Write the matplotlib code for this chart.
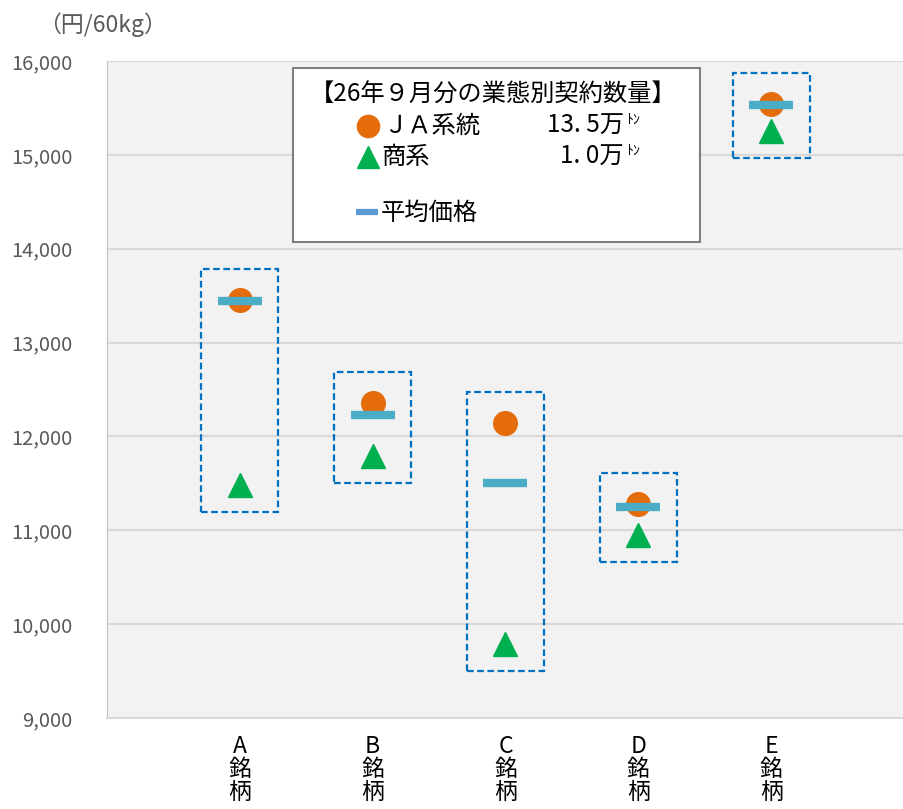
import numpy as np
import matplotlib
matplotlib.use('Agg')
import matplotlib.pyplot as plt
from matplotlib.patches import Rectangle

plt.rcParams['font.family'] = ['Noto Sans CJK JP', 'DejaVu Sans']

# brands and prices (yen / 60kg)
brands = ['A\n銘\n柄', 'B\n銘\n柄', 'C\n銘\n柄', 'D\n銘\n柄', 'E\n銘\n柄']
ja_price = [13450, 12360, 12140, 11280, 15540]
shokei_price = [11480, 11790, 9790, 10950, 15250]
avg_price = [13440, 12230, 11500, 11245, 15530]

legend_title = '【26年９月分の業態別契約数量】'
ja_label, ja_volume = 'ＪＡ系統', '13. 5万'
shokei_label, shokei_volume = '商系', '1. 0万'
avg_label = '平均価格'

c_ja = '#E46C0A'
c_shokei = '#00B050'
c_avg = '#4BACC6'
c_box = '#0070C0'

fig = plt.figure(figsize=(9.04, 8.09), dpi=100)
ax = fig.add_axes([107/904, 1 - 718/809, 797/904, 657/809])
ax.set_facecolor('#F2F2F2')

x = np.arange(1, len(brands) + 1)

# dashed frame around each brand's spread
for xi, a, b, c in zip(x, ja_price, shokei_price, avg_price):
    top = max(a, b, c) + 330
    bot = min(a, b, c) - 285
    ax.add_patch(Rectangle((xi - 0.29, bot), 0.58, top - bot, fill=False,
                           ec=c_box, lw=1.6, ls=(0, (3, 1.6)), zorder=2))

ax.plot(x, shokei_price, ls='none', marker='^', ms=17, color=c_shokei, zorder=3)
ax.plot(x, ja_price, ls='none', marker='o', ms=17, color=c_ja, zorder=4)
ax.plot(x, avg_price, ls='none', marker='_', ms=32, mew=6, color=c_avg, zorder=5)

ax.set_xlim(0, 6)
ax.set_ylim(9000, 16000)
ax.set_yticks(np.arange(9000, 16001, 1000))
ax.set_yticklabels([f'{v:,}' for v in range(9000, 16001, 1000)])
ax.set_xticks(x)
ax.set_xticklabels(brands, linespacing=1.0)
ax.tick_params(axis='y', length=0, pad=25, labelsize=14.5, labelcolor='#595959')
ax.tick_params(axis='x', length=0, pad=12, labelsize=16.5, labelcolor='black')
ax.grid(axis='y', color='#D9D9D9', lw=1.5)
ax.set_axisbelow(True)
for s in ['top', 'right']:
    ax.spines[s].set_visible(False)
ax.spines['left'].set_color('#BFBFBF')
ax.spines['bottom'].set_color('#D9D9D9')
ax.spines['bottom'].set_linewidth(1.5)

fig.text(38/904, 1 - 25/809, '（円/60kg）', fontsize=16.5, color='#595959', va='center')

# legend panel
lx0, lx1 = (293 - 107) / 797, (700 - 107) / 797
ly0, ly1 = 1 - (242 - 61) / 657, 1 - (68 - 61) / 657
ax.add_patch(Rectangle((lx0, ly0), lx1 - lx0, ly1 - ly0, transform=ax.transAxes,
                       fc='white', ec='#7F7F7F', lw=1.5, zorder=6))

def fy(py):
    return 1 - (py - 61) / 657

def fx(px):
    return (px - 107) / 797

fs = 17.5
ax.text(fx(493), fy(95), legend_title, transform=ax.transAxes, ha='center', va='center',
        fontsize=fs, zorder=7)
ax.plot([fx(368)], [fy(126)], transform=ax.transAxes, marker='o', ms=16, color=c_ja,
        ls='none', zorder=7, clip_on=False)
ax.text(fx(383), fy(126), ja_label, transform=ax.transAxes, va='center', fontsize=fs, zorder=7)
ax.text(fx(624), fy(126), ja_volume, transform=ax.transAxes, va='center', ha='right',
        fontsize=fs, zorder=7)
ax.text(fx(626), fy(121), 'ﾄﾝ', transform=ax.transAxes, va='center', ha='left',
        fontsize=10, zorder=7)
ax.plot([fx(368)], [fy(157)], transform=ax.transAxes, marker='^', ms=16, color=c_shokei,
        ls='none', zorder=7, clip_on=False)
ax.text(fx(381), fy(157), shokei_label, transform=ax.transAxes, va='center', fontsize=fs, zorder=7)
ax.text(fx(624), fy(157), shokei_volume, transform=ax.transAxes, va='center', ha='right',
        fontsize=fs, zorder=7)
ax.text(fx(626), fy(152), 'ﾄﾝ', transform=ax.transAxes, va='center', ha='left',
        fontsize=10, zorder=7)
ax.plot([fx(367)], [fy(212)], transform=ax.transAxes, marker='_', ms=16, mew=4.5,
        color='#5B9BD5', ls='none', zorder=7, clip_on=False)
ax.text(fx(381), fy(213), avg_label, transform=ax.transAxes, va='center', fontsize=fs, zorder=7)

fig.savefig('out.png', dpi=100)
